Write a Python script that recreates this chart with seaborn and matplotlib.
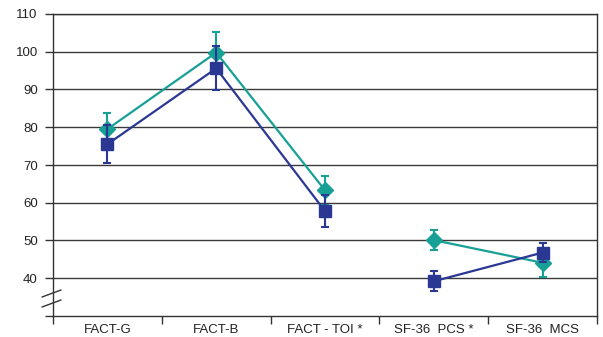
import numpy as np
import pandas as pd
import seaborn as sns
import matplotlib.pyplot as plt
import matplotlib.transforms as mtransforms

# Data
measures = ["FACT-G", "FACT-B", "FACT - TOI *", "SF-36  PCS *", "SF-36  MCS"]
segment = [0, 0, 0, 1, 1]
teal_scores = [79.5, 99.8, 63.3, 50.1, 44.1]
teal_err = [4.4, 5.4, 3.8, 2.6, 3.9]
blue_scores = [75.5, 95.6, 57.8, 39.2, 46.8]
blue_err = [5.0, 5.8, 4.2, 2.6, 2.6]

teal = "#17a096"
blue = "#2b3893"

pos = np.arange(len(measures))
df = pd.concat([
    pd.DataFrame({"pos": pos, "score": teal_scores, "err": teal_err, "group": "teal", "seg": segment}),
    pd.DataFrame({"pos": pos, "score": blue_scores, "err": blue_err, "group": "blue", "seg": segment}),
])

sns.set_style("white")
plt.rcParams['font.family'] = ['Liberation Sans', 'DejaVu Sans']

fig = plt.figure(figsize=(6.03, 3.37), dpi=100)
ax = fig.add_axes([53 / 603, 1 - 316 / 337, 544 / 603, 302 / 337])

# gridlines
for v in range(40, 111, 10):
    ax.axhline(v, color="#3a3a3a", lw=1.0, zorder=0)

palette = {"teal": teal, "blue": blue}
sns.lineplot(data=df, x="pos", y="score", hue="group", units="seg", estimator=None,
             palette=palette, lw=1.6, legend=False, ax=ax, zorder=3)

for grp, marker, ms in [("teal", "D", 8), ("blue", "s", 8.5)]:
    d = df[df["group"] == grp]
    ax.errorbar(d["pos"], d["score"], yerr=d["err"], fmt=marker, ms=ms, color=palette[grp],
                ecolor=palette[grp], elinewidth=1.5, capsize=3, capthick=1.5, zorder=4 if grp == "teal" else 5)

ax.set_xlim(-0.5, len(measures) - 0.5)
ax.set_ylim(30, 110)
ax.set_xlabel("")
ax.set_ylabel("")

# x: boundary ticks, labels at centres
ax.set_xticks(np.arange(-0.5, len(measures)))
ax.set_xticklabels([])
ax.set_xticks(pos, minor=True)
ax.set_xticklabels(measures, minor=True, fontsize=9.5, color="#222222")
ax.tick_params(axis="x", which="major", direction="out", length=6, width=1, color="#333333", bottom=True)
ax.tick_params(axis="x", which="minor", length=0, pad=6)

ax.set_yticks(np.arange(30, 111, 10))
ax.set_yticklabels([""] + [str(v) for v in range(40, 111, 10)], fontsize=9.5, color="#222222")
ax.tick_params(axis="y", direction="out", length=6, width=1, color="#333333", left=True, pad=5)

for s in ax.spines.values():
    s.set_color("#333333")
    s.set_linewidth(1.0)

# axis break marks
trans = mtransforms.blended_transform_factory(fig.transFigure, fig.transFigure)
for y0 in [297, 307]:
    ax.plot([42 / 603, 61 / 603], [1 - y0 / 337, 1 - (y0 - 7) / 337], color="#333333",
            lw=1.0, transform=trans, clip_on=False)

fig.savefig("out.png", dpi=100)
